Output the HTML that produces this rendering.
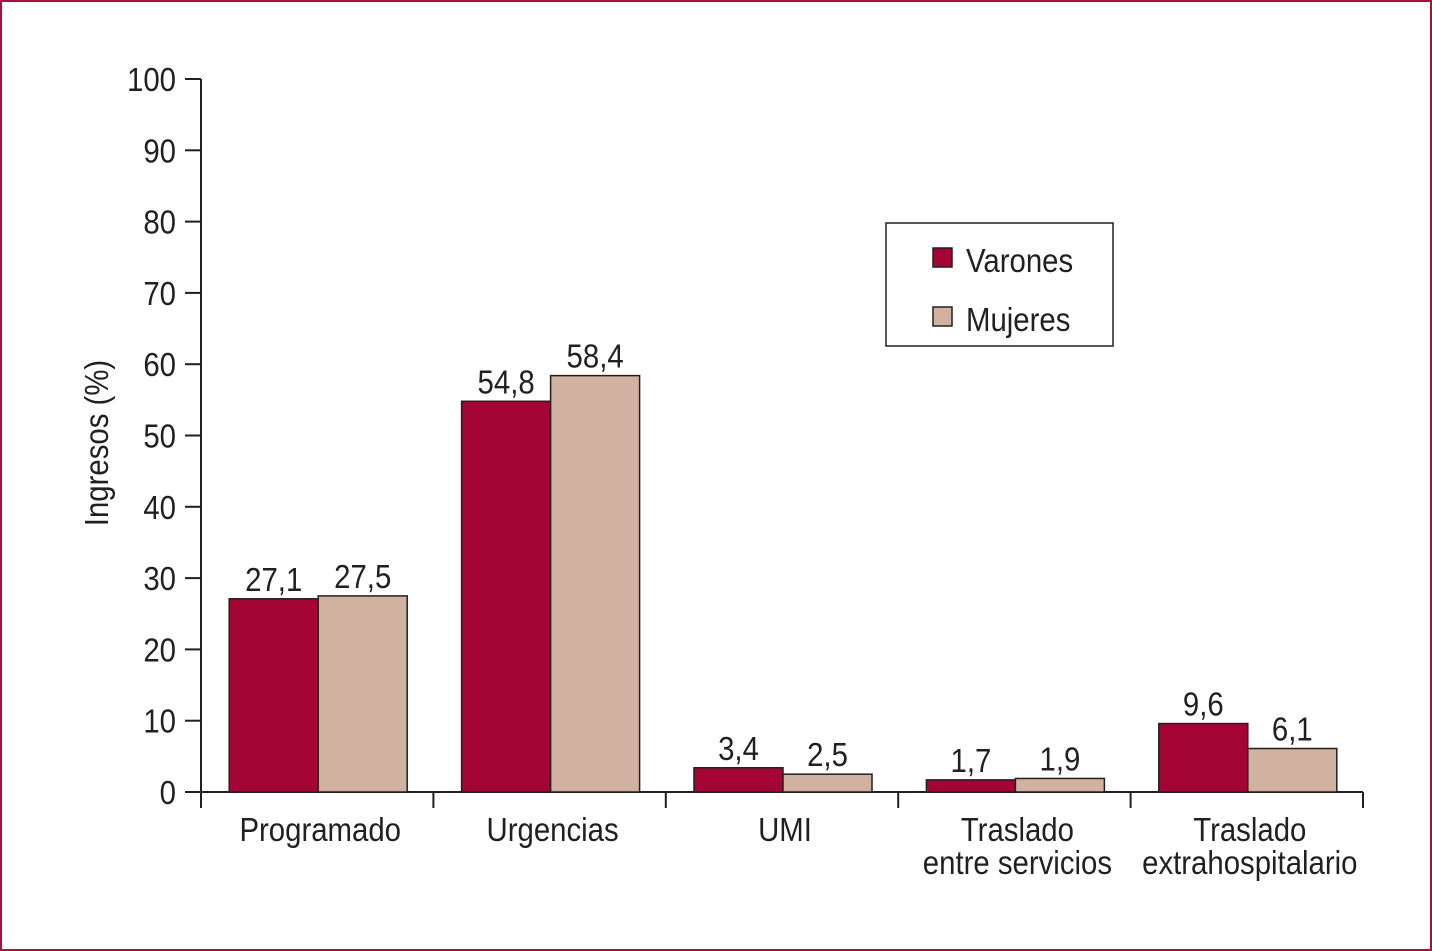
<!DOCTYPE html>
<html><head><meta charset="utf-8"><style>
html,body{margin:0;padding:0;background:#fff}
svg{display:block}
text{font-family:"Liberation Sans",sans-serif;fill:#231f20}
</style></head><body>
<svg width="1432" height="951" viewBox="0 0 1432 951">
<rect x="1" y="1" width="1430" height="949" fill="#fff" stroke="#a8123a" stroke-width="2"/>
<g id="axes"></g>
<g id="bars"></g>
<text x="0" y="0" transform="translate(108,443) rotate(-90) scale(0.89,1)" text-anchor="middle" font-size="33">Ingresos (%)</text>
<g>
<rect x="886" y="223" width="227" height="123" fill="#fff" stroke="#231f20" stroke-width="1.5"/>
<rect x="933" y="248" width="19" height="19" fill="#a50535" stroke="#231f20" stroke-width="1.5"/>
<text x="0" y="0" transform="translate(966,272) scale(0.89,1)" font-size="33">Varones</text>
<rect x="933" y="307" width="19" height="19" fill="#d1b19f" stroke="#231f20" stroke-width="1.5"/>
<text x="0" y="0" transform="translate(966,331) scale(0.89,1)" font-size="33">Mujeres</text>
</g>
</svg>
<script>
const categories=[["Programado"],["Urgencias"],["UMI"],["Traslado","entre servicios"],["Traslado","extrahospitalario"]];
const varones=[27.1,54.8,3.4,1.7,9.6];
const mujeres=[27.5,58.4,2.5,1.9,6.1];
const yTicks=[0,10,20,30,40,50,60,70,80,90,100];
const NS="http://www.w3.org/2000/svg";
const x0=201,x1=1363,y0=792,y100=79;
const y=v=>y0-(y0-y100)*v/100;
const cw=(x1-x0)/categories.length;
const fmt=v=>v.toFixed(1).replace('.',',');
function mk(t,a,p){const e=document.createElementNS(NS,t);for(const k in a)e.setAttribute(k,a[k]);p.appendChild(e);return e;}
function txt(x,yy,anchor,s,p){const e=mk('text',{x:0,y:0,transform:'translate('+x+','+yy+') scale(0.89,1)','text-anchor':anchor,'font-size':33},p);e.textContent=s;return e;}
const ax=document.getElementById('axes'),bg=document.getElementById('bars');
let l=mk('line',{x1:x0,y1:y100,x2:x0,y2:y0,stroke:'#231f20','stroke-width':2},ax);


yTicks.forEach(v=>{
 const t=mk('line',{x1:185,y1:y(v),x2:x0,y2:y(v),stroke:'#231f20','stroke-width':2},ax);
 
 
 const tx=txt(176,y(v)+12,'end',String(v),ax);
 
 
});
for(let i=0;i<=categories.length;i++){
 const xx=x0+i*cw;
 const t=mk('line',{x1:xx,y1:y0,x2:xx,y2:y0+16,stroke:'#231f20','stroke-width':2},ax);
 
 
}
categories.forEach((c,i)=>{
 const cx=x0+(i+0.5)*cw, bw=89;
 [[varones[i],'#a50535',cx-88,'bar-varones'],[mujeres[i],'#d1b19f',cx+1,'bar-mujeres']].forEach(([v,col,bx,nm])=>{
  const r=mk('rect',{x:bx,y:y(v),width:bw,height:y0-y(v),fill:col,stroke:'#231f20','stroke-width':1.5},bg);
  
  
  const t=txt(bx+bw/2,y(v)-8,'middle',fmt(v),bg);
  
  
 });
 c.forEach((line,j)=>{
  const t=txt(cx+3,841+j*33,'middle',line,ax);
  
  
 });
});
l=mk('line',{x1:x0,y1:y0,x2:x1,y2:y0,stroke:'#231f20','stroke-width':2},ax);


</script>
</body></html>
